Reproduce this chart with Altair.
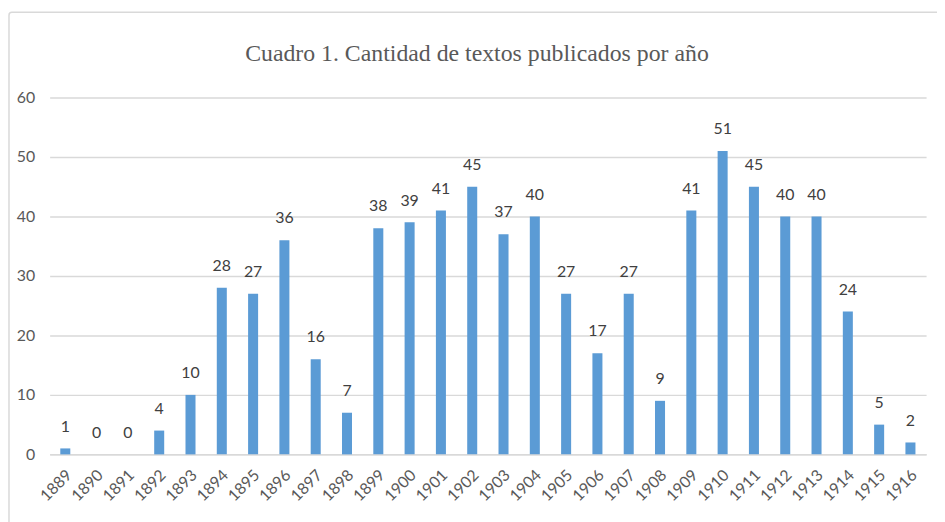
import altair as alt
import pandas as pd

years = [str(y) for y in range(1889, 1917)]
counts = [1, 0, 0, 4, 10, 28, 27, 36, 16, 7, 38, 39, 41, 45, 37, 40, 27, 17, 27, 9,
          41, 51, 45, 40, 40, 24, 5, 2]
title_text = "Cuadro 1. Cantidad de textos publicados por año"

df = pd.DataFrame({"year": years, "count": counts})

W, H = 884, 360

x = alt.X("year:N", sort=years, title=None,
          scale=alt.Scale(paddingInner=0.68, paddingOuter=0.34),
          axis=alt.Axis(labelAngle=-45, labelFont="Lato", labelFontSize=16,
                        labelColor="#595959", ticks=False, domain=True,
                        domainColor="#d9d9d9", domainWidth=1.5, labelPadding=18,
                        labelOffset=4, labelAlign="right", labelBaseline="middle"))
y = alt.Y("count:Q", title=None,
          scale=alt.Scale(domain=[0, 60], nice=False),
          axis=alt.Axis(values=[0, 10, 20, 30, 40, 50, 60], labelFont="Lato",
                        labelFontSize=16, labelColor="#595959", ticks=False,
                        domain=False, gridColor="#d9d9d9", gridWidth=1.5,
                        labelPadding=15))

base = alt.Chart(df)

bars = base.mark_bar(color="#5B9BD5").encode(x=x, y=y)

labels = base.mark_text(font="Lato", fontSize=16, color="#404040", dy=-22,
                        baseline="middle").encode(x=alt.X("year:N", sort=years), y="count:Q",
                                                  text="count:Q")

border = alt.Chart(pd.DataFrame({"a": [0]})).mark_rect(
    fill=None, stroke="#d9d9d9", strokeWidth=1.5, cornerRadius=3
).encode(x=alt.value(-41), x2=alt.value(W + 40), y=alt.value(-86), y2=alt.value(H + 100))

title = alt.Chart(pd.DataFrame({"t": [title_text]})).mark_text(
    font="Liberation Serif", fontSize=24, color="#595959", align="center", baseline="alphabetic"
).encode(text="t:N", x=alt.value(431), y=alt.value(-37))

chart = alt.layer(border, bars, labels, title).properties(
    width=W, height=H,
    autosize=alt.AutoSizeParams(type="none"),
    padding={"left": 42, "top": 88, "right": 11, "bottom": 66},
).configure_view(stroke=None)

chart.save("out.html", embed_options={"renderer": "svg", "actions": False})
